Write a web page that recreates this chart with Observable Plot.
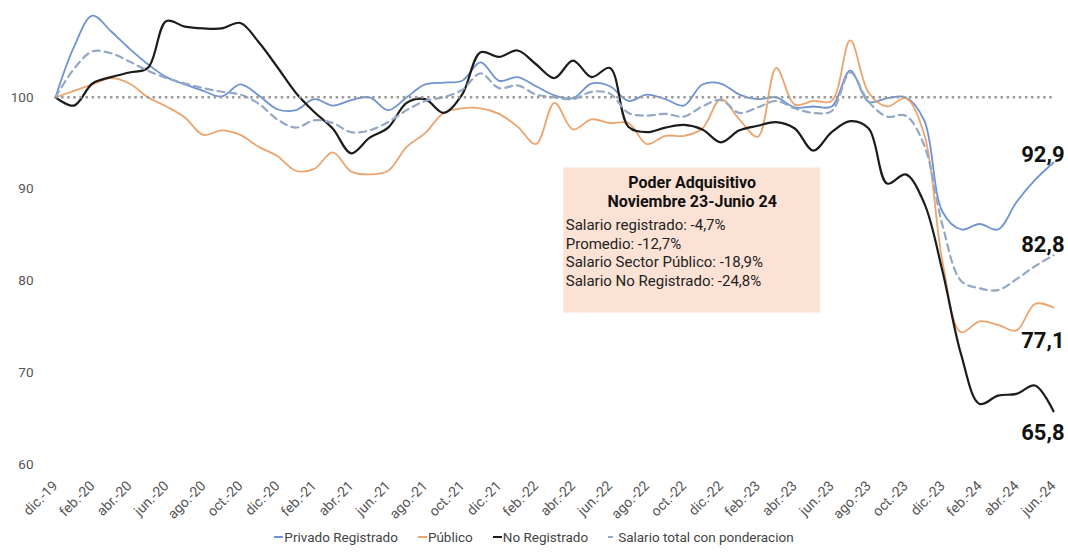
<!DOCTYPE html>
<html><head><meta charset="utf-8">
<script src="https://cdn.jsdelivr.net/npm/d3@7"></script>
<script src="https://cdn.jsdelivr.net/npm/@observablehq/plot@0.6"></script>
<style>
body{margin:0;background:#fff;font-family:Roboto,sans-serif;}
#legend{display:flex;justify-content:center;gap:20px;font-size:13.5px;color:#444;height:20px;line-height:20px;margin-top:8px;}
#legend span.item{display:inline-flex;align-items:center;}
#legend span.mk{display:inline-block;height:2px;margin-right:1px;}
</style></head><body><div id="chart"></div><div id="legend"></div>
<script>
const months = ["dic.-19","ene.-20","feb.-20","mar.-20","abr.-20","may.-20","jun.-20","jul.-20","ago.-20","sep.-20","oct.-20","nov.-20","dic.-20","ene.-21","feb.-21","mar.-21","abr.-21","may.-21","jun.-21","jul.-21","ago.-21","sep.-21","oct.-21","nov.-21","dic.-21","ene.-22","feb.-22","mar.-22","abr.-22","may.-22","jun.-22","jul.-22","ago.-22","sep.-22","oct.-22","nov.-22","dic.-22","ene.-23","feb.-23","mar.-23","abr.-23","may.-23","jun.-23","jul.-23","ago.-23","sep.-23","oct.-23","nov.-23","dic.-23","ene.-24","feb.-24","mar.-24","abr.-24","may.-24","jun.-24"];

const privado = [100,105.5,108.9,107.2,105.3,103.6,102.2,101.4,100.7,100.1,101.4,100.2,98.7,98.6,99.8,99.1,99.7,100.0,98.6,100.0,101.4,101.6,101.8,103.8,101.8,102.2,101.2,100.2,99.9,101.5,101.2,99.6,100.3,99.8,99.1,101.4,101.5,100.3,99.8,100.0,98.9,99.0,99.0,102.9,99.5,99.9,100.0,97.5,87.5,85.6,86.2,85.6,88.6,91.0,92.9];
const publico = [100,100.7,101.4,102.1,101.5,100.0,99.0,97.8,95.9,96.4,95.9,94.6,93.6,92.0,92.2,94.0,91.9,91.6,92.0,94.6,96.1,98.3,98.8,98.8,98.2,96.8,94.9,99.4,96.5,97.6,97.2,97.2,94.9,95.8,95.8,96.6,99.8,97.6,95.7,103.2,99.2,99.6,99.6,106.2,100.5,99.0,99.9,96.0,82.0,74.4,75.6,75.2,74.6,77.5,77.1];
const noRegistrado = [100,99.1,101.5,102.2,102.7,103.2,108.3,107.7,107.5,107.5,108.1,106.0,103.3,100.5,98.4,96.6,93.9,95.6,96.7,99.4,99.8,98.3,100.3,104.9,104.4,105.1,103.6,102.1,104.0,102.2,103.2,96.8,96.2,96.7,97.0,96.5,95.1,96.4,96.9,97.3,96.6,94.2,96.2,97.4,96.6,90.6,91.6,88.5,81.0,72.0,66.6,67.5,67.7,68.6,65.8];
const salarioTotal = [100,103.1,105.0,104.8,103.9,102.9,102.1,101.5,101.0,100.6,100.3,99.3,97.6,96.7,97.5,97.2,96.2,96.4,97.3,98.6,99.6,100.0,100.8,102.6,101.0,101.3,100.3,100.0,99.8,100.6,100.4,98.3,98.0,98.2,97.9,99.0,99.7,98.3,98.9,99.6,98.8,98.3,98.5,102.7,99.5,97.9,98.0,94.8,86.0,80.0,79.2,79.0,80.2,81.6,82.8];

const seriesNames = ["Privado Registrado","Público","No Registrado","Salario total con ponderacion"];
const yTicks = [60,70,80,90,100];
const baseline = 100;

const annTitle = "Poder Adquisitivo\nNoviembre 23-Junio 24";
const annBody = ["Salario registrado: -4,7%","Promedio: -12,7%","Salario Sector Público: -18,9%","Salario No Registrado: -24,8%"];

// styles (kept apart from data)
const styles = {
  "Privado Registrado": {color:"#6f93d0", width:1.8, dash:null, labelDy:-8, legendMark:"line"},
  "Público": {color:"#eca46e", width:1.8, dash:null, labelDy:33, legendMark:"line"},
  "No Registrado": {color:"#1c1c1c", width:2.2, dash:null, labelDy:22, legendMark:"line"},
  "Salario total con ponderacion": {color:"#93a8c4", width:2.2, dash:"7,5", labelDy:-10, legendMark:"dash"}
};
const valuesBySeries = [privado, publico, noRegistrado, salarioTotal];

const rows = [];
seriesNames.forEach((name, k) => valuesBySeries[k].forEach((v, i) => rows.push({i, v, name})));
const last = months.length - 1;
const ends = seriesNames.map((name, k) => ({name, i: last, v: valuesBySeries[k][last]}));
const fmt = v => v.toFixed(1).replace(".", ",");

// annotation box in data coordinates
const box = {x1: 27.5, x2: 41.4, y1: 76.5, y2: 92.3};

const marks = [
  Plot.rect([box], {x1:"x1", x2:"x2", y1:"y1", y2:"y2", fill:"#fbe2d5"}),
  Plot.text([annTitle], {x: (box.x1+box.x2)/2, y: box.y2 - 0.74, text: d => d, lineAnchor:"top", textAnchor:"middle", fontWeight:"bold", fontSize:16, lineHeight:1.16, fill:"#111"}),
  Plot.text([annBody.join("\n")], {x: box.x1, y: box.y2 - 5.35, dx: 2, text: d => d, lineAnchor:"top", textAnchor:"start", fontSize:15, lineHeight:1.23, fill:"#222"}),
  Plot.axisX({ticks: d3.range(0, months.length, 2), tickFormat: i => months[i], tickRotate: -45, tickSize: 0, tickPadding: 19, fontSize: 14, fill:"#555"}),
  Plot.axisY({ticks: yTicks, tickSize: 0, tickPadding: 22, fontSize: 13.5, fill:"#555"}),
];
seriesNames.forEach(name => {
  const s = styles[name];
  marks.push(Plot.line(rows.filter(d => d.name === name), {x:"i", y:"v", stroke: s.color, strokeWidth: s.width, strokeDasharray: s.dash, curve:"catmull-rom"}));
});
marks.push(Plot.ruleY([baseline], {x1: 0, x2: last, stroke:"#9a9a9a", strokeWidth:2.5, strokeDasharray:"2.5,3.6"}));
ends.forEach(e => {
  marks.push(Plot.text([e], {x:"i", y:"v", text: d => fmt(d.v), dx: 11, dy: styles[e.name].labelDy, textAnchor:"end", fontWeight:"bold", fontSize:22, fill:"#111"}));
});

const chart = Plot.plot({
  width: 1068, height: 519,
  marginLeft: 55, marginRight: 15, marginTop: 5, marginBottom: 55,
  style: {fontFamily: "Roboto, sans-serif", color: "#555", background: "#fff", overflow: "visible"},
  x: {domain: [0, last], axis: null},
  y: {domain: [60, 110], axis: null},
  marks
});
document.getElementById("chart").appendChild(chart);

const leg = document.getElementById("legend");
seriesNames.forEach(name => {
  const s = styles[name];
  const item = document.createElement("span"); item.className = "item";
  const mk = document.createElement("span"); mk.className = "mk";
  mk.style.background = s.color;
  mk.style.width = s.legendMark === "dash" ? "5px" : "9px";
  if (s.legendMark === "dash") mk.style.marginRight = "5px";
  item.appendChild(mk);
  item.appendChild(document.createTextNode(name));
  leg.appendChild(item);
});
</script></body></html>
